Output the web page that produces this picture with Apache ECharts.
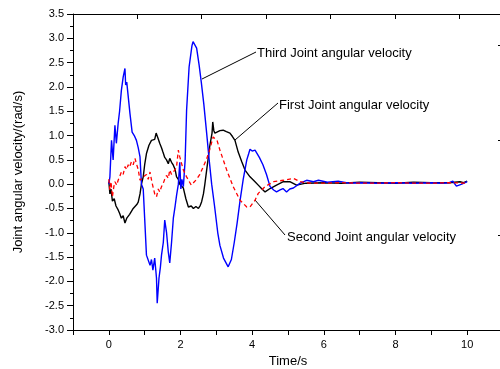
<!DOCTYPE html>
<html>
<head>
<meta charset="utf-8">
<script src="https://cdn.jsdelivr.net/npm/echarts@6/dist/echarts.min.js"></script>
<style>
  html, body { margin: 0; padding: 0; background: #fff; }
  #chart { width: 500px; height: 369px; }
</style>
</head>
<body>
<div id="chart"></div>
<script>
  // 第三关节角速度 (blue)
  const thirdT = [0, 0.03, 0.075, 0.12, 0.17, 0.21, 0.26, 0.3, 0.35, 0.4, 0.45, 0.47, 0.5, 0.53, 0.59, 0.65, 0.71, 0.77, 0.82, 0.87, 0.91,
    0.96, 1.0, 1.05, 1.1, 1.15, 1.19, 1.23, 1.28, 1.33, 1.35, 1.4, 1.44, 1.47, 1.52, 1.56, 1.61, 1.66, 1.7, 1.75, 1.8, 1.85, 1.89,
    1.94, 1.98, 2.01, 2.04, 2.08, 2.13, 2.17, 2.24, 2.32, 2.35, 2.45, 2.52, 2.58, 2.65, 2.73, 2.8, 2.87, 2.95, 3.04, 3.1, 3.2,
    3.33, 3.42, 3.5, 3.58, 3.66, 3.75, 3.85, 3.9, 3.94, 4.0, 4.08, 4.2, 4.3, 4.4, 4.5, 4.6, 4.68, 4.78, 4.86, 4.96, 5.05, 5.15,
    5.34, 5.52, 5.71, 5.85, 6.1, 6.4, 6.7, 7.0, 7.5, 8.0, 8.5, 9.0, 9.3, 9.5, 9.6, 9.7, 9.85, 10.0];
  const thirdV = [0, 0.15, 0.9, 0.5, 1.21, 0.84, 1.25, 1.5, 1.93, 2.2, 2.38, 2.04, 2.1, 2.07, 1.45, 1.07, 1.0, 0.9, 0.75, 0.56, 0,
    -0.1, -0.7, -1.46, -1.5, -1.67, -1.55, -1.77, -1.52, -1.93, -2.45, -1.93, -1.7, -1.46, -1.2, -0.74, -0.99, -1.4, -1.62, -1.2, -0.7, -0.45, -0.23,
    0, 0.45, -0.1, 0.1, -0.05, 0.5, 1.52, 2.41, 2.85, 2.93, 2.8, 2.45, 2.1, 1.65, 1.05, 0.5, 0, -0.45, -1.0, -1.26, -1.52,
    -1.7, -1.55, -1.2, -0.8, -0.35, 0.1, 0.5, 0.62, 0.72, 0.68, 0.7, 0.55, 0.4, 0.2, -0.05, -0.12, -0.16, -0.12, -0.09, -0.16, -0.1, -0.08,
    0.02, 0.08, 0.05, 0.08, 0.04, 0.06, 0.02, 0.03, 0.02, 0.03, 0.02, 0.03, 0.02, 0.03, 0.06, -0.04, 0.0, 0.05];

  // 第一关节角速度 (black)
  const firstT = [0, 0.03, 0.06, 0.1, 0.15, 0.2, 0.26, 0.3, 0.35, 0.4, 0.45, 0.5, 0.54, 0.58, 0.63, 0.68, 0.73, 0.78, 0.82, 0.87, 0.91,
    0.96, 1.0, 1.05, 1.12, 1.19, 1.24, 1.28, 1.32, 1.37, 1.42, 1.47, 1.51, 1.56, 1.61, 1.66, 1.7, 1.75, 1.8, 1.85, 1.89, 1.94, 1.98,
    2.03, 2.08, 2.15, 2.22, 2.3, 2.36, 2.43, 2.5, 2.55, 2.59, 2.64, 2.68, 2.75, 2.82, 2.88, 2.9, 2.91, 2.93, 2.96, 3.01, 3.1, 3.19,
    3.28, 3.38, 3.45, 3.52, 3.61, 3.71, 3.8, 3.94, 4.08, 4.17, 4.26, 4.36, 4.5, 4.68, 4.87, 5.05, 5.24, 5.5, 6.0, 6.5, 7.0, 7.5,
    8.0, 8.5, 9.0, 9.5, 9.8, 9.9, 10.0];
  const firstV = [0.05, -0.2, -0.1, -0.35, -0.3, -0.45, -0.53, -0.6, -0.7, -0.65, -0.8, -0.7, -0.74, -0.62, -0.6, -0.5, -0.53, -0.42, -0.37, -0.2, 0,
    0.15, 0.4, 0.63, 0.8, 0.9, 0.86, 0.92, 1.05, 0.95, 0.84, 0.75, 0.66, 0.55, 0.5, 0.42, 0.53, 0.45, 0.39, 0.3, 0.15, 0.1, 0,
    -0.04, -0.08, -0.3, -0.47, -0.45, -0.5, -0.46, -0.5, -0.44, -0.36, -0.2, 0, 0.4, 0.8, 1.05, 1.28, 1.28, 1.1, 1.05, 1.08, 1.1, 1.11,
    1.08, 1.05, 0.98, 0.9, 0.66, 0.46, 0.29, 0.15, 0.05, -0.02, -0.09, -0.16, -0.09, -0.02, 0.05, 0.05, -0.02, 0.02, 0.03, 0.02, 0.04, 0.03,
    0.02, 0.04, 0.03, 0.03, 0.05, 0.03, 0.06];

  // 第二关节角速度 (red dashed)
  const secondT = [0, 0.03, 0.06, 0.1, 0.14, 0.17, 0.22, 0.26, 0.3, 0.35, 0.4, 0.45, 0.5, 0.54, 0.58, 0.63, 0.68, 0.73, 0.77, 0.82, 0.87,
    0.96, 1.05, 1.1, 1.15, 1.2, 1.24, 1.28, 1.33, 1.38, 1.42, 1.47, 1.52, 1.56, 1.61, 1.66, 1.7, 1.75, 1.8, 1.85, 1.89, 1.94, 1.98,
    2.08, 2.17, 2.3, 2.45, 2.54, 2.63, 2.73, 2.82, 2.91, 2.96, 3.02, 3.1, 3.29, 3.47, 3.66, 3.85, 3.94, 4.08, 4.17, 4.36, 4.6,
    4.87, 5.15, 5.34, 5.61, 6.0, 6.5, 7.0, 7.5, 8.0, 8.5, 9.0, 9.5, 10.0];
  const secondV = [0.1, -0.12, 0.05, -0.26, -0.05, 0.05, -0.02, 0.08, 0.15, 0.25, 0.2, 0.36, 0.3, 0.4, 0.35, 0.46, 0.4, 0.53, 0.42, 0.3, 0.08,
    0.15, 0.2, 0.1, 0.25, 0.05, 0.01, -0.2, -0.26, -0.1, -0.16, -0.05, 0.02, 0.1, 0.18, 0.12, 0.29, 0.2, 0.22, 0.3, 0.36, 0.7, 0.56,
    0.29, 0.15, -0.02, 0.1, 0.2, 0.35, 0.52, 0.72, 0.97, 1.0, 0.9, 0.7, 0.29, -0.05, -0.33, -0.47, -0.47, -0.33, -0.19, -0.05, 0.05,
    0.08, 0.12, 0.05, 0.02, 0.02, 0.03, 0.02, 0.02, 0.03, 0.02, 0.02, 0.03, 0.02];

  const yTicks = ['3.5', '3.0', '2.5', '2.0', '1.5', '1.0', '0.5', '0.0', '-0.5', '-1.0', '-1.5', '-2.0', '-2.5', '-3.0'];
  const xTicks = [0, 2, 4, 6, 8, 10];

  const pair = (t, v) => t.map((x, i) => [x, v[i]]);
  const FONT = 'Liberation Sans';
  const BLACK_LINE = { show: true, onZero: false, lineStyle: { color: '#000', width: 1 } };

  const chart = echarts.init(document.getElementById('chart'));
  chart.setOption({
    animation: false,
    backgroundColor: '#fff',
    textStyle: { fontFamily: FONT },
    grid: { left: 73, top: 14, right: -3, bottom: 39, containLabel: false, outerBoundsMode: 'none' },
    xAxis: [{
      type: 'value', min: -1, max: 11, interval: 1,
      name: 'Time/s', nameLocation: 'middle', nameGap: 23,
      nameTextStyle: { fontSize: 13, color: '#000', fontFamily: FONT },
      axisLine: BLACK_LINE,
      axisTick: { inside: false, length: 5, lineStyle: { color: '#000' } },
      axisLabel: {
        color: '#000', fontSize: 11, margin: 9, fontFamily: FONT,
        formatter: v => xTicks.indexOf(v) >= 0 ? String(v) : ''
      },
      splitLine: { show: false }
    }, {
      type: 'value', position: 'top', min: 0, max: 6.68, interval: 1,
      axisLine: BLACK_LINE,
      axisTick: { inside: true, length: 5, lineStyle: { color: '#000' } },
      axisLabel: { show: false },
      splitLine: { show: false }
    }],
    yAxis: [{
      type: 'value', min: -3, max: 3.5, interval: 0.5,
      name: 'Joint angular velocity/(rad/s)', nameLocation: 'middle', nameGap: 48,
      nameTextStyle: { fontSize: 13, color: '#000', fontFamily: FONT },
      axisLine: BLACK_LINE,
      axisTick: { inside: false, length: 6, lineStyle: { color: '#000' } },
      minorTick: { show: true, splitNumber: 2, length: 3, lineStyle: { color: '#000' } },
      axisLabel: {
        color: '#000', fontSize: 11, margin: 9, fontFamily: FONT,
        formatter: v => yTicks.find(s => Math.abs(parseFloat(s) - v) < 1e-6) || ''
      },
      splitLine: { show: false }
    }, {
      type: 'value', position: 'right', min: 0, max: 3.326, interval: 1,
      axisLine: BLACK_LINE,
      axisTick: { inside: true, length: 5, lineStyle: { color: '#000' } },
      minorTick: { show: true, splitNumber: 2, length: 3, lineStyle: { color: '#000' } },
      axisLabel: { show: false },
      splitLine: { show: false }
    }],
    series: [{
      name: 'First Joint angular velocity', type: 'line', symbol: 'none',
      lineStyle: { color: '#000', width: 1.4 },
      data: pair(firstT, firstV)
    }, {
      name: 'Third Joint angular velocity', type: 'line', symbol: 'none',
      lineStyle: { color: '#0000ff', width: 1.4 },
      data: pair(thirdT, thirdV)
    }, {
      name: 'Second Joint angular velocity', type: 'line', symbol: 'none',
      lineStyle: { color: '#ff0000', width: 1.3, type: [4, 3] },
      data: pair(secondT, secondV)
    }],
    graphic: [
      { type: 'line', shape: { x1: 202, y1: 79, x2: 256, y2: 52 }, style: { stroke: '#000', lineWidth: 1 } },
      { type: 'text', x: 257, y: 53, style: { text: 'Third Joint angular velocity', font: '13px ' + FONT, fill: '#000', verticalAlign: 'middle' } },
      { type: 'line', shape: { x1: 235, y1: 140, x2: 278, y2: 103 }, style: { stroke: '#000', lineWidth: 1 } },
      { type: 'text', x: 279, y: 105, style: { text: 'First Joint angular velocity', font: '13px ' + FONT, fill: '#000', verticalAlign: 'middle' } },
      { type: 'line', shape: { x1: 255, y1: 200, x2: 285, y2: 235 }, style: { stroke: '#000', lineWidth: 1 } },
      { type: 'text', x: 287, y: 237, style: { text: 'Second Joint angular velocity', font: '13px ' + FONT, fill: '#000', verticalAlign: 'middle' } }
    ]
  });
</script>
</body>
</html>
